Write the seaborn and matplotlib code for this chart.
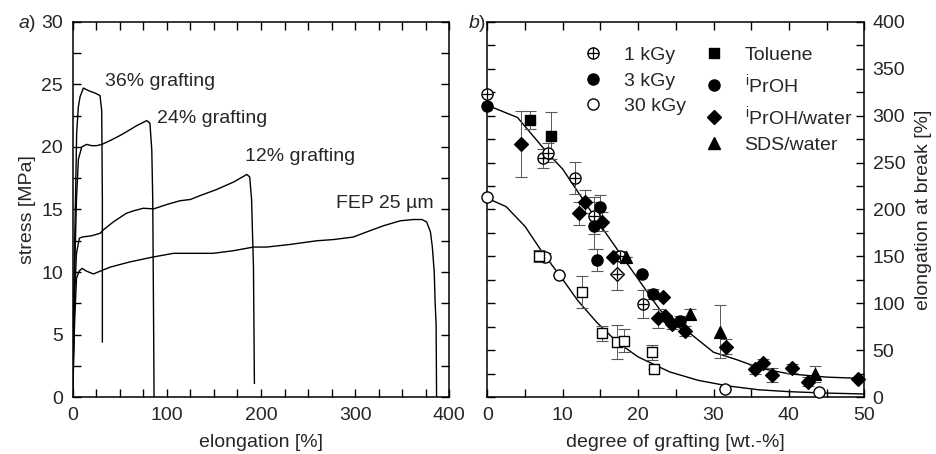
import matplotlib
matplotlib.use("Agg")
import matplotlib.pyplot as plt
from matplotlib.lines import Line2D
from matplotlib.ticker import MultipleLocator
import seaborn as sns

# ---- panel a: stress-strain curves ----
fep_x = [0, 2, 4, 7, 10, 14, 22, 30, 40, 60, 85, 107, 130, 149, 170, 192, 206, 230, 259, 277,
         298, 312, 330, 348, 362, 371, 376, 380, 382, 384, 385, 386, 386.5]
fep_y = [0, 6, 9.5, 10.1, 10.3, 10.1, 9.85, 10.1, 10.4, 10.8, 11.2, 11.5, 11.5, 11.5, 11.7, 12.0,
         12.0, 12.2, 12.5, 12.6, 12.8, 13.2, 13.7, 14.1, 14.2, 14.2, 14.0, 13.2, 12.0, 10.0, 7.5, 5.8, 0]
g12_x = [0, 2, 4, 7, 10, 20, 29, 33, 43, 57, 65, 75, 86, 100, 114, 125, 135, 153, 171, 185, 188,
         190, 191, 192, 193]
g12_y = [0, 8, 11.5, 12.7, 12.8, 12.9, 13.1, 13.4, 14.0, 14.7, 14.9, 15.1, 15.05, 15.4, 15.7, 15.8,
         16.1, 16.6, 17.2, 17.8, 17.6, 15.8, 13.0, 10.4, 1.1]
g24_x = [0, 2, 4, 6, 9.6, 14.9, 20, 25.5, 31, 39.6, 50, 57, 68, 78.6, 82, 84, 85, 86, 86.4]
g24_y = [0, 10, 15.8, 19.0, 20.0, 20.2, 20.1, 20.1, 20.2, 20.5, 20.9, 21.2, 21.7, 22.1, 21.9,
         19.75, 15.8, 5.0, 0]
g36_x = [0, 2, 4.2, 6, 7.8, 11.3, 16.6, 23.7, 29, 30.8, 31.5, 31.5]
g36_y = [0, 12, 21.1, 23.2, 24.0, 24.7, 24.5, 24.3, 24.1, 22.9, 15.8, 4.4]

curve_labels = ["36% grafting", "24% grafting", "12% grafting", "FEP 25 \u00b5m"]
label_x = [34, 89, 183, 280]
label_y = [25.2, 22.3, 19.2, 15.5]

# ---- panel b: elongation at break vs degree of grafting ----
# 1 kGy, iPrOH (crossed circles)
k1_circ_x = [0, 7.4, 8.1, 11.6, 14.1, 17.6, 20.7]
k1_circ_y = [322.6, 254.5, 260.5, 234, 193.4, 150.5, 99.4]
k1_circ_e = [0, 10, 10, 17, 20, 5, 15]
# 1 kGy, iPrOH/water (crossed diamond)
k1_dia_x = [17.2]
k1_dia_y = [131.3]
k1_dia_e = [17]
# 3 kGy, toluene (filled squares)
k3_sq_x = [5.6, 8.4]
k3_sq_y = [295.3, 278.6]
k3_sq_e = [10, 25]
# 3 kGy, iPrOH (filled circles)
k3_circ_x = [0, 15.0, 14.2, 14.6, 20.5, 22.0, 25.6]
k3_circ_y = [310.2, 202.3, 182.8, 146.2, 131.3, 110, 81.4]
k3_circ_e = [0, 13, 25, 12, 0, 5, 5]
# 3 kGy, iPrOH/water (filled diamonds)
k3_dia_x = [4.5, 12.1, 12.9, 15.2, 16.7, 23.3, 22.7, 23.6, 24.5, 26.2, 31.7, 35.5, 36.6, 37.7,
            40.4, 42.6, 49.2]
k3_dia_y = [269.7, 195.9, 208.3, 187, 149.8, 107.3, 84.1, 86.6, 78, 70.7, 54, 29.8, 36.2, 23.8,
            30.9, 16.7, 19.5]
k3_dia_e = [35, 12, 12, 10, 0, 0, 10, 0, 5, 5, 8, 5, 5, 7, 5, 5, 0]
# 3 kGy, SDS/water (filled triangles)
k3_tri_x = [18.4, 26.9, 30.8, 43.5]
k3_tri_y = [149, 88.9, 70, 24.8]
k3_tri_e = [0, 5, 28, 8]
# 30 kGy, iPrOH (open circles)
k30_circ_x = [0, 7.6, 9.5, 31.5, 44.0]
k30_circ_y = [213.7, 149, 130.3, 8.5, 5.3]
k30_circ_e = [0, 5, 0, 0, 0]
# 30 kGy, toluene (open squares)
k30_sq_x = [6.9, 12.5, 15.2, 17.2, 18.1, 21.9, 22.1]
k30_sq_y = [150.5, 111.8, 68.1, 58.6, 60.3, 47.9, 30.2]
k30_sq_e = [6, 17, 8, 18, 12, 8, 0]

# fitted curves
fit_hi_x = [0, 4, 8, 10, 12.7, 15.4, 18.5, 20.7, 22.9, 25, 26.9, 30, 33.1, 36.2, 40, 45, 50]
fit_hi_y = [311, 298, 260, 243, 210.5, 178.5, 143, 118, 93, 76, 68, 48, 40, 31, 25, 21.5, 20]
fit_lo_x = [0, 2.5, 5, 7.5, 9.6, 12, 14.5, 17.2, 20, 24.2, 28, 32, 36, 40, 45, 50]
fit_lo_y = [212, 203, 182, 152, 130, 103, 80, 59, 43, 27, 18, 12, 8, 6, 4.5, 3.5]

sns.set_theme(style="ticks")
plt.rcParams["font.family"] = ["Liberation Sans", "DejaVu Sans"]
plt.rcParams["mathtext.fontset"] = "custom"
plt.rcParams["mathtext.rm"] = "Liberation Sans"
plt.rcParams["mathtext.it"] = "Liberation Sans:italic"
plt.rcParams["mathtext.default"] = "regular"

fs = 14
fig = plt.figure(figsize=(9.37, 4.54), dpi=100)
ax1 = fig.add_axes([0.0776, 0.1249, 0.4019, 0.8273])
ax2 = fig.add_axes([0.5201, 0.1249, 0.4023, 0.8273])

for xs, ys in [(fep_x, fep_y), (g12_x, g12_y), (g24_x, g24_y), (g36_x, g36_y)]:
    sns.lineplot(x=xs, y=ys, ax=ax1, color="black", lw=1.0, estimator=None, sort=False)
for t, x, y in zip(curve_labels, label_x, label_y):
    ax1.text(x, y, t, fontsize=fs, va="center", ha="left")

ax1.set_xlim(0, 400)
ax1.set_ylim(0, 30)
ax1.xaxis.set_major_locator(MultipleLocator(100))
ax1.xaxis.set_minor_locator(MultipleLocator(25))
ax1.yaxis.set_major_locator(MultipleLocator(5))
ax1.yaxis.set_minor_locator(MultipleLocator(2.5))
ax1.set_xlabel("elongation [%]", fontsize=fs, labelpad=7)
ax1.set_ylabel("stress [MPa]", fontsize=fs, labelpad=4)
ax1.text(-0.145, 0.995, "$\\mathit{a}$)", transform=ax1.transAxes, fontsize=fs,
         va="center", ha="left")

# panel b
sns.lineplot(x=fit_hi_x, y=fit_hi_y, ax=ax2, color="black", lw=1.0, estimator=None, sort=False)
sns.lineplot(x=fit_lo_x, y=fit_lo_y, ax=ax2, color="black", lw=1.0, estimator=None, sort=False)

groups = [
    (k1_circ_x, k1_circ_y, k1_circ_e, "o", "white", 8),
    (k1_dia_x, k1_dia_y, k1_dia_e, "D", "white", 7),
    (k3_sq_x, k3_sq_y, k3_sq_e, "s", "black", 7),
    (k3_circ_x, k3_circ_y, k3_circ_e, "o", "black", 8),
    (k3_dia_x, k3_dia_y, k3_dia_e, "D", "black", 7),
    (k3_tri_x, k3_tri_y, k3_tri_e, "^", "black", 8.5),
    (k30_circ_x, k30_circ_y, k30_circ_e, "o", "white", 8),
    (k30_sq_x, k30_sq_y, k30_sq_e, "s", "white", 7),
]
for xs, ys, es, m, fc, ms in groups:
    ax2.errorbar(xs, ys, yerr=es, fmt="none", ecolor="0.35", elinewidth=0.7, capsize=4,
                 capthick=0.8, zorder=2)
    sns.scatterplot(x=xs, y=ys, ax=ax2, marker=m, s=ms ** 2, color=fc, edgecolor="black",
                    linewidth=1.0, zorder=3)
# crosses for the 1 kGy points
sns.scatterplot(x=k1_circ_x + k1_dia_x, y=k1_circ_y + k1_dia_y, ax=ax2, marker="+", s=60,
                color="black", linewidth=0.9, zorder=4)
for coll in ax2.collections:
    coll.set_clip_on(False)

ax2.set_xlim(0, 50)
ax2.set_ylim(0, 400)
ax2.xaxis.set_major_locator(MultipleLocator(10))
ax2.xaxis.set_minor_locator(MultipleLocator(5))
ax2.yaxis.set_major_locator(MultipleLocator(50))
ax2.yaxis.set_minor_locator(MultipleLocator(25))
ax2.yaxis.tick_right()
ax2.yaxis.set_label_position("right")
ax2.set_xlabel("degree of grafting [wt.-%]", fontsize=fs, labelpad=7)
ax2.set_ylabel("elongation at break [%]", fontsize=fs, labelpad=7)
ax2.text(-0.05, 0.995, "$\\mathit{b}$)", transform=ax2.transAxes, fontsize=fs,
         va="center", ha="left")

def mk(m, fc, ms=8):
    return Line2D([], [], ls="none", marker=m, markersize=ms, markerfacecolor=fc,
                  markeredgecolor="black", markeredgewidth=1.0)

plus = Line2D([], [], ls="none", marker="+", markersize=8, color="black", markeredgewidth=0.9)
blank = Line2D([], [], ls="none", marker="none")
handles = [(mk("o", "white"), plus), mk("o", "black"), mk("o", "white"), blank,
           mk("s", "black", 7), mk("o", "black"), mk("D", "black", 7), mk("^", "black", 8.5)]
labels = ["1 kGy", "3 kGy", "30 kGy", "", "Toluene", "$^{i}$PrOH", "$^{i}$PrOH/water",
          "SDS/water"]
ax2.legend(handles, labels, ncol=2, loc="upper left", bbox_to_anchor=(0.255, 0.935),
           frameon=False, fontsize=fs, handlelength=1.0, handletextpad=1.1,
           columnspacing=0.9, labelspacing=0.42, borderpad=0, borderaxespad=0)

for ax in (ax1, ax2):
    for s in ax.spines.values():
        s.set_linewidth(1.1)
        s.set_color("black")
    ax.tick_params(which="both", direction="in", top=True, bottom=True, left=True, right=True,
                   labelsize=fs, color="black", width=1.0)
    ax.tick_params(which="major", length=6, pad=7)
    ax.tick_params(which="minor", length=6)
ax2.tick_params(axis="y", labelleft=False, labelright=True, pad=6)

fig.savefig("out.png", dpi=100)
